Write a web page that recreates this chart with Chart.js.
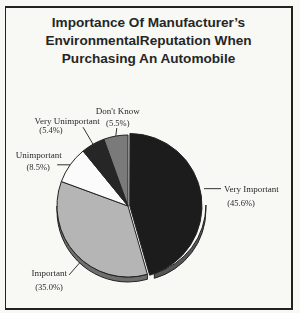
<!DOCTYPE html>
<html>
<head>
<meta charset="utf-8">
<script src="https://cdn.jsdelivr.net/npm/chart.js@4"></script>
<style>
  html, body { margin: 0; padding: 0; background: #f8f8f5; }
  #wrap { position: relative; width: 300px; height: 313px; overflow: hidden; }
  #frame {
    position: absolute; left: 5px; top: 6px; width: 288px; height: 304px;
    box-sizing: border-box; border: 2px solid #222; border-left-width: 1.5px;
  }
  #title {
    position: absolute; left: 0; top: 14px; width: 297px; text-align: center;
    font: bold 13.6px "Liberation Sans", Arial, sans-serif; line-height: 18px; color: #262626;
  }
  canvas { position: absolute; left: 0; top: 0; }
</style>
</head>
<body>
<div id="wrap">
  <div id="frame"></div>
  <div id="title">Importance Of Manufacturer’s<br>EnvironmentalReputation When<br>Purchasing An Automobile</div>
  <canvas id="pieChart" width="300" height="313"></canvas>
</div>
<script>
// data
const categories = ['Very Important', 'Important', 'Unimportant', 'Very Unimportant', "Don't Know"];
const shares = [45.6, 35.0, 8.5, 5.4, 5.5];

// look of the slices
const fillColors = ['#1c1c1c', '#b5b5b5', '#fbfbfb', '#262626', '#7a7a7a'];
const rimColors = ['#555555', '#6e6e6e', '#9a9a9a', '#3a3a3a', '#5a5a5a'];
const explode = [7, 0, 0, 0, 0];
const rimDepth = 5;

// label placement: where on the slice the leader starts, leader vector, text offsets from leader end
const labelLayout = [
  { frac: 0.467, drop: 0, lead: [17, 0],    name: [3, 1, 'left'],     pct: [20, 15, 'center'] },
  { frac: 0.467, drop: 5, lead: [-10.5, 12], name: [-2, -1, 'right'],  pct: [-20, 13, 'center'] },
  { frac: 0.5,   drop: 0, lead: [-13, 0],   name: [-18.5, -9, 'center'], pct: [-19, 2.5, 'center'] },
  { frac: 0.5,   drop: 0, lead: [-10, -17], name: [-16, -6, 'center'], pct: [-32, 4, 'center'] },
  { frac: 0.5,   drop: 0, lead: [1, -8],    name: [1, -16, 'center'],  pct: [1, -4, 'center'] }
];

// 3D edge under the lower half of each slice
const rimPlugin = {
  id: 'rim',
  beforeDatasetsDraw(chart) {
    const ctx = chart.ctx;
    chart.getDatasetMeta(0).data.forEach((arc, i) => {
      const p = arc.getProps(['x', 'y', 'startAngle', 'endAngle', 'outerRadius'], true);
      const off = explode[i];
      const mid = (p.startAngle + p.endAngle) / 2;
      const cx = p.x + Math.cos(mid) * off;
      const cy = p.y + Math.sin(mid) * off;
      const a0 = Math.max(p.startAngle, 0);
      const a1 = Math.min(p.endAngle, Math.PI);
      if (a0 >= a1) return;
      ctx.save();
      ctx.beginPath();
      ctx.arc(cx, cy, p.outerRadius, a0, a1);
      ctx.arc(cx, cy + rimDepth, p.outerRadius, a1, a0, true);
      ctx.closePath();
      ctx.fillStyle = rimColors[i];
      ctx.fill();
      ctx.strokeStyle = '#222';
      ctx.lineWidth = 1;
      ctx.stroke();
      ctx.restore();
    });
  }
};

// outside labels with leader lines
const labelPlugin = {
  id: 'sliceLabels',
  afterDatasetsDraw(chart) {
    const ctx = chart.ctx;
    chart.getDatasetMeta(0).data.forEach((arc, i) => {
      const p = arc.getProps(['x', 'y', 'startAngle', 'endAngle', 'outerRadius'], true);
      const L = labelLayout[i];
      const mid = (p.startAngle + p.endAngle) / 2;
      const a = p.startAngle + (p.endAngle - p.startAngle) * L.frac;
      const off = explode[i];
      const cx = p.x + Math.cos(mid) * off;
      const cy = p.y + Math.sin(mid) * off;
      const sx = cx + Math.cos(a) * p.outerRadius;
      const sy = cy + Math.sin(a) * p.outerRadius + L.drop;
      const ex = sx + L.lead[0];
      const ey = sy + L.lead[1];
      ctx.save();
      ctx.strokeStyle = '#333';
      ctx.lineWidth = 1;
      ctx.beginPath();
      ctx.moveTo(sx, sy);
      ctx.lineTo(ex, ey);
      ctx.stroke();
      ctx.fillStyle = '#2a2a2a';
      ctx.textBaseline = 'middle';
      ctx.font = '9px "Liberation Serif", "Times New Roman", serif';
      ctx.textAlign = L.name[2];
      ctx.fillText(categories[i], ex + L.name[0], ey + L.name[1]);
      ctx.font = '8.5px "Liberation Serif", "Times New Roman", serif';
      ctx.textAlign = L.pct[2];
      ctx.fillText('(' + shares[i].toFixed(1) + '%)', ex + L.pct[0], ey + L.pct[1]);
      ctx.restore();
    });
  }
};

const ctx = document.getElementById('pieChart').getContext('2d');

const pieChart = new Chart(ctx, {
  type: 'pie',
  data: {
    labels: categories,
    datasets: [{
      data: shares,
      backgroundColor: fillColors,
      borderColor: '#222',
      borderWidth: 1,
      offset: explode
    }]
  },
  options: {
    responsive: false,
    devicePixelRatio: 1,
    animation: false,
    radius: 71,
    layout: { padding: { left: 40, right: 84, top: 118, bottom: 19 } },
    plugins: {
      legend: { display: false },
      title: { display: false },
      tooltip: { enabled: false }
    }
  },
  plugins: [rimPlugin, labelPlugin]
});
</script>
</body>
</html>
